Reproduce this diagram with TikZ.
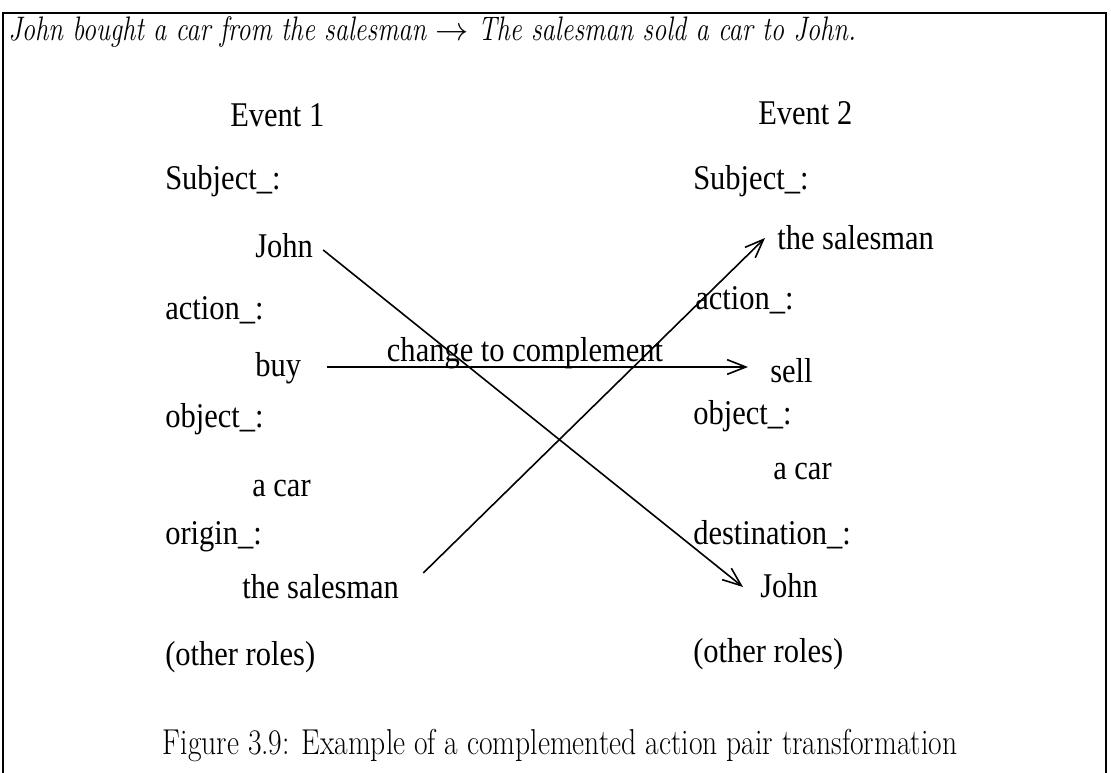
\documentclass[tikz,border=0pt]{standalone}
\usepackage{fontspec}
\newfontfamily\tmfont{Liberation Serif}[FakeStretch=0.88]
\newfontfamily\cmfont{Latin Modern Roman}[FakeStretch=0.82]
\newfontfamily\cmitfont{Latin Modern Roman}[FakeStretch=0.78]
\usetikzlibrary{arrows.meta,calc}
\begin{document}
\begin{tikzpicture}[x=0.75pt,y=-0.75pt,
  lbl/.style={anchor=base west, inner sep=0pt, font=\tmfont\fontsize{26}{30}\selectfont},
  arr/.style={line width=1.2pt, -{Straight Barb[length=14pt,width=11pt,line width=1.2pt]}},
  frame/.style={line width=1.6pt}]
\useasboundingbox (0,0) rectangle (1111,773);
\draw[frame] (3,773) -- (3,13) -- (1106,13) -- (1106,773);
\node[anchor=base west, inner sep=0pt, font=\cmitfont\itshape\fontsize{25.5}{30}\selectfont] (head) at (8,41)
  {John bought a car from the salesman $\rightarrow$ The salesman sold a car to John.};
% left column
\node[lbl] (ev1) at (230,127) {Event 1};
\node[lbl] (subl) at (165,190) {Subject\_:};
\node[lbl] (jl) at (255,258) {John};
\node[lbl] (actl) at (165,320) {action\_:};
\node[lbl] (buy) at (255,377) {buy};
\node[lbl] (objl) at (165,428) {object\_:};
\node[lbl] (carl) at (252,497) {a car};
\node[lbl] (orig) at (165,545) {origin\_:};
\node[lbl] (sl) at (242,599) {the salesman};
\node[lbl] (othl) at (165,665) {(other roles)};
% right column
\node[lbl] (ev2) at (758,125) {Event 2};
\node[lbl] (subr) at (693,190) {Subject\_:};
\node[lbl] (sr) at (777,250) {the salesman};
\node[lbl] (actr) at (695,310) {action\_:};
\node[lbl] (sell) at (770,383) {sell};
\node[lbl] (objr) at (693,425) {object\_:};
\node[lbl] (carr) at (773,480) {a car};
\node[lbl] (dest) at (693,545) {destination\_:};
\node[lbl] (jr) at (760,598) {John};
\node[lbl] (othr) at (693,662) {(other roles)};
% caption
\node[anchor=base, inner sep=0pt, font=\cmfont\fontsize{27}{31}\selectfont] (cap) at (560,754)
  {Figure 3.9: Example of a complemented action pair transformation};
% connectors
\draw[arr] ($(jl.base east)+(10,-8)$) -- ($(jr.base west)+(-17,-11)$);
\draw[arr] ($(sl.base east)+(24,-26)$) -- ($(sr.base west)+(-12,-12)$);
\draw[arr] ($(buy.base east)+(26,-10)$) -- ($(sell.base west)+(-22,-16)$)
  node[lbl, anchor=base, pos=0.47, yshift=4pt] (chg) {change to complement};
\end{tikzpicture}
\end{document}
